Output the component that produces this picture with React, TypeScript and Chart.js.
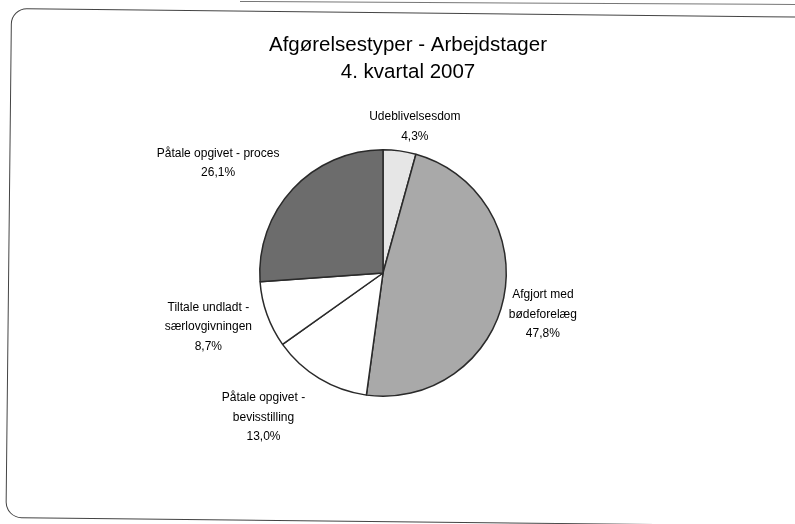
import React, { useEffect, useRef } from "react";
import { Chart, registerables } from "chart.js";

Chart.register(...registerables);

const titleLines = ["Afgørelsestyper - Arbejdstager", "4. kvartal 2007"];
const categories = [
  "Udeblivelsesdom",
  "Afgjort med bødeforelæg",
  "Påtale opgivet - bevisstilling",
  "Tiltale undladt - særlovgivningen",
  "Påtale opgivet - proces",
];
const labelLines = [
  ["Udeblivelsesdom"],
  ["Afgjort med", "bødeforelæg"],
  ["Påtale opgivet -", "bevisstilling"],
  ["Tiltale undladt -", "særlovgivningen"],
  ["Påtale opgivet - proces"],
];
const values = [4.3, 47.8, 13.0, 8.7, 26.1];
const sliceColors = ["#e6e6e6", "#a9a9a9", "#ffffff", "#ffffff", "#6c6c6c"];

const FONT = "Arial, 'Liberation Sans', Helvetica, sans-serif";

const fmt = (v: number) => v.toFixed(1).replace(".", ",") + "%";

const titlePlugin = {
  id: "scanTitle",
  afterDraw(chart: any) {
    const ctx = chart.ctx;
    ctx.save();
    ctx.fillStyle = "#000";
    ctx.font = `20.5px ${FONT}`;
    ctx.textAlign = "center";
    ctx.textBaseline = "middle";
    titleLines.forEach((t, i) => ctx.fillText(t, 408, 45 + i * 27));
    ctx.restore();
  },
};

const nudges = [
  [8, 3],
  [-2, 9],
  [-30, 7],
  [-10, 0],
  [-24, -7],
];

const labelPlugin = {
  id: "sliceLabels",
  afterDatasetsDraw(chart: any) {
    const ctx = chart.ctx;
    const meta = chart.getDatasetMeta(0);
    const lineH = 19.5;
    ctx.save();
    ctx.fillStyle = "#000";
    ctx.font = `12px ${FONT}`;
    ctx.textAlign = "center";
    ctx.textBaseline = "middle";
    meta.data.forEach((arc: any, i: number) => {
      const { x, y, startAngle, endAngle, outerRadius } = arc.getProps(
        ["x", "y", "startAngle", "endAngle", "outerRadius"],
        true
      );
      const mid = (startAngle + endAngle) / 2;
      const dx = Math.cos(mid);
      const dy = Math.sin(mid);
      const lines = [...labelLines[i], fmt(values[i])];
      const w = Math.max(...lines.map((l) => ctx.measureText(l).width));
      const h = lines.length * lineH;
      const gap = 8;
      const ax = x + (outerRadius + gap) * dx;
      const ay = y + (outerRadius + gap) * dy;
      const cx = ax + dx * (w / 2) + nudges[i][0];
      const cy = ay + dy * (h / 2) + nudges[i][1];
      lines.forEach((l, j) => {
        ctx.fillText(l, cx, cy - h / 2 + lineH / 2 + j * lineH);
      });
    });
    ctx.restore();
  },
};

export default function App() {
  const ref = useRef<HTMLCanvasElement>(null);
  useEffect(() => {
    if (!ref.current) return;
    const chart = new Chart(ref.current, {
      type: "pie",
      data: {
        labels: categories,
        datasets: [
          {
            data: values,
            backgroundColor: sliceColors,
            borderColor: "#2a2a2a",
            borderWidth: 1.5,
          },
        ],
      },
      options: {
        responsive: false,
        animation: false,
        events: [],
        layout: { padding: { left: 259, right: 288, top: 149, bottom: 127 } },
        plugins: {
          legend: { display: false },
          tooltip: { enabled: false },
          title: { display: false },
        },
      },
      plugins: [labelPlugin, titlePlugin],
    });
    return () => chart.destroy();
  }, []);
  return (
    <div
      style={{
        position: "fixed",
        left: 0,
        top: 0,
        width: 795,
        height: 524,
        overflow: "hidden",
        background: "#fff",
      }}
    >
      <div
        style={{
          position: "absolute",
          left: 240,
          top: 1,
          width: 600,
          height: 0,
          borderTop: "1px solid #777",
          transformOrigin: "top left",
          transform: "rotate(0.3deg)",
        }}
      />
      <div
        style={{
          position: "absolute",
          left: 11,
          top: 8,
          width: 1000,
          height: 508,
          border: "1.5px solid #444",
          borderRadius: 16,
          transformOrigin: "top left",
          transform: "rotate(0.62deg)",
        }}
      />
      <canvas
        ref={ref}
        width={795}
        height={524}
        style={{ position: "absolute", left: 0, top: 0 }}
      />
    </div>
  );
}
